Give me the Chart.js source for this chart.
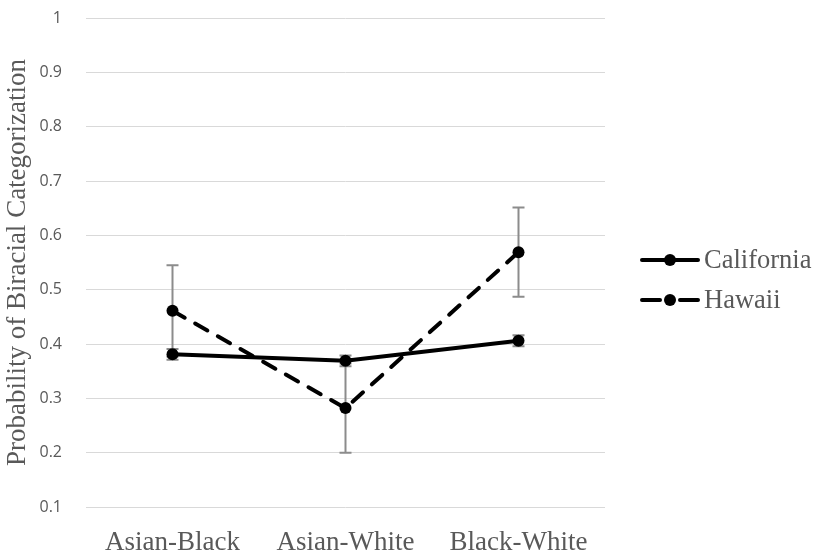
<!DOCTYPE html>
<html>
<head>
<meta charset="utf-8">
<script src="https://cdn.jsdelivr.net/npm/chart.js@4"></script>
<style>
  html, body { margin: 0; padding: 0; background: #ffffff; }
  canvas { display: block; }
</style>
</head>
<body>
<canvas id="chart" width="813" height="553"></canvas>
<script>
// Categories and series
const categories = ['Asian-Black', 'Asian-White', 'Black-White'];
const californiaMeans = [0.381, 0.369, 0.406];
const californiaErrors = [0.010, 0.010, 0.010];
const hawaiiMeans = [0.461, 0.282, 0.569];
const hawaiiErrors = [0.084, 0.082, 0.082];
const yTickLabels = ['0.1', '0.2', '0.3', '0.4', '0.5', '0.6', '0.7', '0.8', '0.9', '1'];

const SERIF = '"Liberation Serif", "Times New Roman", serif';
const SANS = '"Open Sans", "Noto Sans", sans-serif';
const TEXT = '#595959';

// Vertical error bars with caps, drawn behind the lines
const errorBars = {
  id: 'errorBars',
  beforeDatasetsDraw(chart) {
    const ctx = chart.ctx;
    const y = chart.scales.y;
    ctx.save();
    ctx.strokeStyle = '#8c8c8c';
    ctx.lineWidth = 2;
    chart.data.datasets.forEach((ds, i) => {
      const meta = chart.getDatasetMeta(i);
      meta.data.forEach((pt, j) => {
        const v = ds.data[j], e = ds.errors[j];
        const yt = y.getPixelForValue(v + e);
        const yb = y.getPixelForValue(v - e);
        const x = pt.x;
        ctx.beginPath();
        ctx.moveTo(x, yt); ctx.lineTo(x, yb);
        ctx.moveTo(x - 6, yt); ctx.lineTo(x + 6, yt);
        ctx.moveTo(x - 6, yb); ctx.lineTo(x + 6, yb);
        ctx.stroke();
      });
    });
    ctx.restore();
  }
};

// Legend on the right: line sample with marker, then the series name
const sideLegend = {
  id: 'sideLegend',
  afterDraw(chart) {
    const ctx = chart.ctx;
    const x0 = 640, x1 = 700, xm = 670;
    const rows = [{ y: 260, ds: chart.data.datasets[0] }, { y: 300, ds: chart.data.datasets[1] }];
    ctx.save();
    rows.forEach(r => {
      ctx.strokeStyle = '#000';
      ctx.fillStyle = '#000';
      ctx.lineWidth = 4;
      ctx.lineCap = 'round';
      ctx.beginPath();
      if (r.ds.borderDash && r.ds.borderDash.length) {
        ctx.moveTo(x0 + 2, r.y); ctx.lineTo(xm - 10, r.y);
        ctx.moveTo(xm + 10, r.y); ctx.lineTo(x1 - 2, r.y);
      } else {
        ctx.moveTo(x0 + 2, r.y); ctx.lineTo(x1 - 2, r.y);
      }
      ctx.stroke();
      ctx.beginPath();
      ctx.arc(xm, r.y, 6, 0, Math.PI * 2);
      ctx.fill();
      ctx.fillStyle = TEXT;
      ctx.font = '26.5px ' + SERIF;
      ctx.textBaseline = 'middle';
      ctx.textAlign = 'left';
      ctx.fillText(r.ds.label, 704, r.y + 1);
    });
    ctx.restore();
  }
};

new Chart(document.getElementById('chart'), {
  type: 'line',
  data: {
    labels: categories,
    datasets: [
      {
        label: 'California',
        data: californiaMeans,
        errors: californiaErrors,
        borderColor: '#000',
        backgroundColor: '#000',
        borderWidth: 4,
        pointRadius: 6,
        pointHoverRadius: 6,
        pointBorderWidth: 0,
        tension: 0
      },
      {
        label: 'Hawaii',
        data: hawaiiMeans,
        errors: hawaiiErrors,
        borderColor: '#000',
        backgroundColor: '#000',
        borderWidth: 4,
        borderDash: [14, 12],
        borderCapStyle: 'round',
        pointRadius: 6,
        pointHoverRadius: 6,
        pointBorderWidth: 0,
        tension: 0
      }
    ]
  },
  options: {
    responsive: false,
    animation: false,
    devicePixelRatio: 1,
    layout: { padding: { left: 0, right: 208, top: 18, bottom: 0 } },
    plugins: {
      legend: { display: false },
      tooltip: { enabled: false }
    },
    scales: {
      x: {
        offset: true,
        grid: { display: false },
        border: { display: false },
        ticks: { color: TEXT, font: { family: SERIF, size: 27 }, padding: 12 },
        afterFit(s) { s.height = 46; }
      },
      y: {
        min: 0.1,
        max: 1,
        // invisible tick marks keep the labels clear of the gridlines
        grid: { color: '#d9d9d9', lineWidth: 1, drawTicks: true, tickLength: 24, tickColor: 'rgba(0,0,0,0)' },
        border: { display: false },
        ticks: {
          stepSize: 0.1,
          padding: 0,
          color: TEXT,
          font: { family: SANS, size: 16 },
          callback: (v, i) => yTickLabels[i]
        },
        title: {
          display: true,
          text: 'Probability of Biracial Categorization',
          color: TEXT,
          font: { family: SERIF, size: 27 },
          padding: { top: 2, bottom: 0 }
        },
        afterFit(s) { s.width = 86; }
      }
    }
  },
  plugins: [errorBars, sideLegend]
});
</script>
</body>
</html>
